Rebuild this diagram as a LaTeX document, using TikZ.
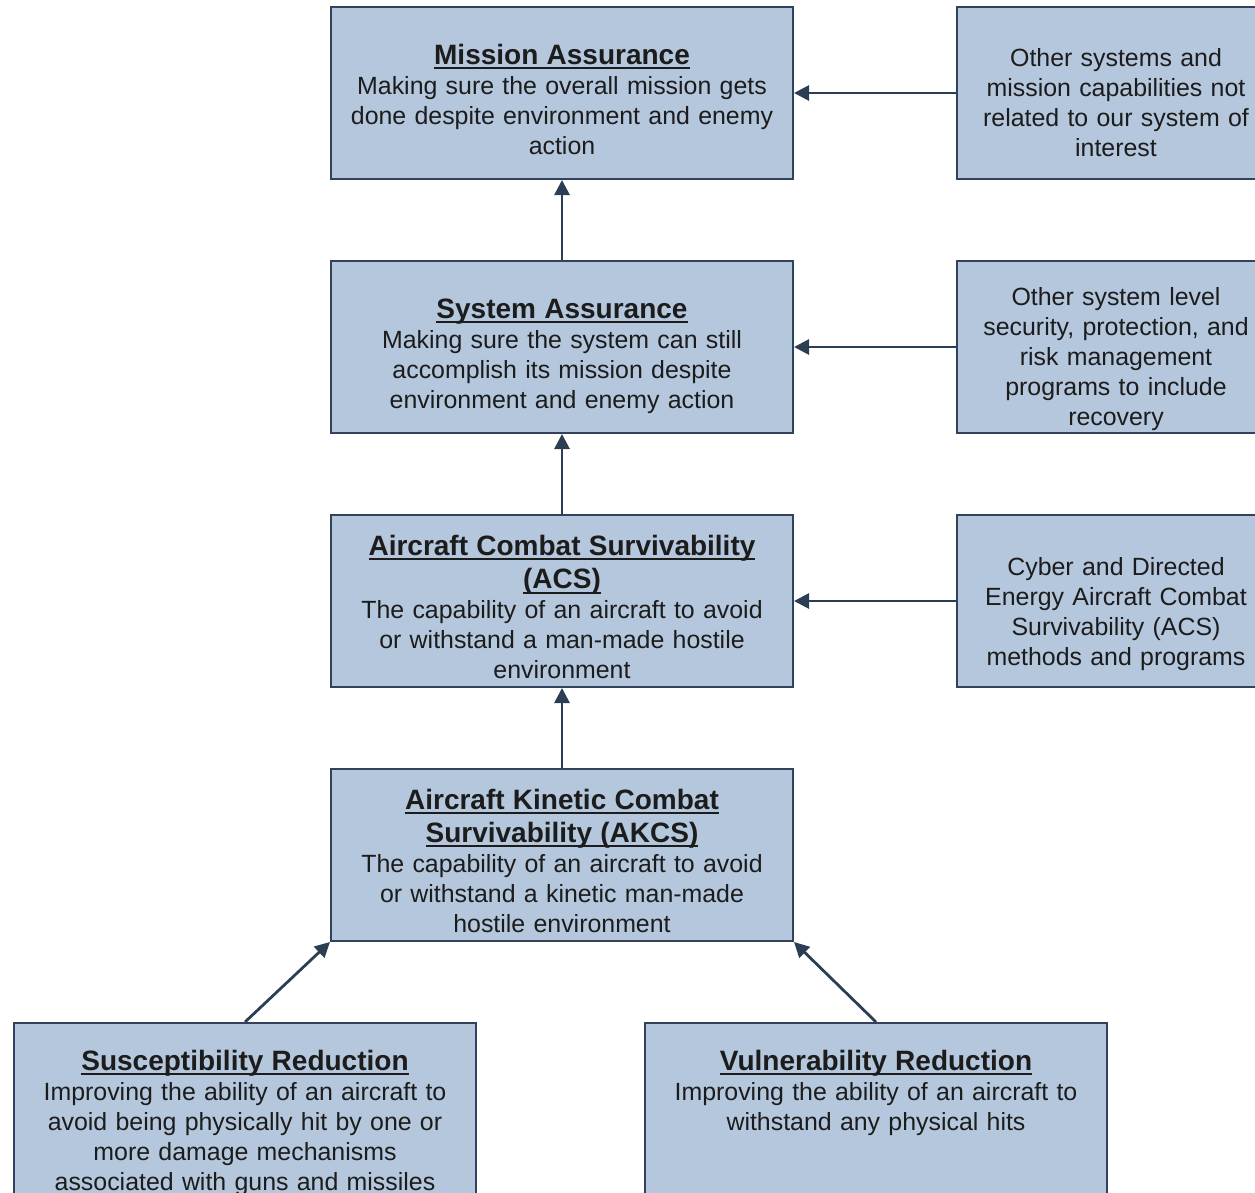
\documentclass[tikz,border=0pt]{standalone}
\usepackage{fontspec}
\setmainfont{Liberation Sans}
\usetikzlibrary{arrows.meta}
\definecolor{boxfill}{RGB}{180,199,221}
\definecolor{boxline}{RGB}{50,66,90}
\definecolor{arrowcol}{RGB}{44,62,84}
\definecolor{txtcol}{RGB}{28,28,28}
\newcommand\bodyfont{\fontsize{24.9pt}{30pt}\selectfont}
\newcommand\ttlfont{\fontsize{28pt}{33pt}\selectfont\bfseries}
\newcommand\boxtitle[1]{{\ttlfont\setbox0\hbox{#1}\rlap{\copy0}\rule[-5.2pt]{\wd0}{2.4pt}}}
\newcommand\tallstrut{\rule{0pt}{27pt}}
\begin{document}
\begin{tikzpicture}[x=1pt,y=-1pt,
  box/.style={draw=boxline, line width=2pt, fill=boxfill, inner sep=0pt,
    minimum width=462pt, minimum height=172pt},
  sidebox/.style={box, minimum width=318pt},
  txt/.style={inner sep=0pt, anchor=base, align=center, text width=456pt,
    font=\bodyfont, text=txtcol},
  sidetxt/.style={txt, text width=310pt},
  conn/.style={draw=arrowcol, line width=2.8pt, -{Triangle[length=15pt,width=15pt]}}]
\useasboundingbox (0,0) rectangle (1255,1192);
\clip (0,0) rectangle (1255,1192);

% boxes
\node[box] (ma) at (562,93) {};
\node[sidebox] (oth1) at (1116,93) {};
\node[box] (sa) at (562,347) {};
\node[sidebox] (oth2) at (1116,347) {};
\node[box] (acs) at (562,601) {};
\node[sidebox] (cyb) at (1116,601) {};
\node[box] (akcs) at (562,855) {};
\node[box, minimum height=180pt] (sus) at (245,1113) {};
\node[box, minimum height=180pt] (vul) at (876,1113) {};

% texts
\node[txt] (mat) at (562,64) {\boxtitle{Mission Assurance}\\ Making sure the overall mission gets\\ done despite environment and enemy\\ action};
\node[txt] (sat) at (562,318) {\boxtitle{System Assurance}\\ Making sure the system can still\\ accomplish its mission despite\\ environment and enemy action};
\node[txt] (acst) at (562,555) {\boxtitle{Aircraft Combat Survivability}\\ \tallstrut\boxtitle{(ACS)}\\ The capability of an aircraft to avoid\\ or withstand a man-made hostile\\ environment};
\node[txt] (akcst) at (562,809) {\boxtitle{Aircraft Kinetic Combat}\\ \tallstrut\boxtitle{Survivability (AKCS)}\\ The capability of an aircraft to avoid\\ or withstand a kinetic man-made\\ hostile environment};
\node[txt] (sust) at (245,1070) {\boxtitle{Susceptibility Reduction}\\ Improving the ability of an aircraft to\\ avoid being physically hit by one or\\ more damage mechanisms\\ associated with guns and missiles};
\node[txt] (vult) at (876,1070) {\boxtitle{Vulnerability Reduction}\\ Improving the ability of an aircraft to\\ withstand any physical hits};
\node[sidetxt] (o1t) at (1116,66) {Other systems and\\ mission capabilities not\\ related to our system of\\ interest};
\node[sidetxt] (o2t) at (1116,305) {Other system level\\ security, protection, and\\ risk management\\ programs to include\\ recovery};
\node[sidetxt] (cybt) at (1116,575) {Cyber and Directed\\ Energy Aircraft Combat\\ Survivability (ACS)\\ methods and programs};

% connectors
\draw[conn] (oth1.west) -- (ma.east);
\draw[conn] (oth2.west) -- (sa.east);
\draw[conn] (cyb.west) -- (acs.east);
\draw[conn] (sa.north) -- (ma.south);
\draw[conn] (acs.north) -- (sa.south);
\draw[conn] (akcs.north) -- (acs.south);
\draw[conn] (sus.north) -- (akcs.south west);
\draw[conn] (vul.north) -- (akcs.south east);
\end{tikzpicture}
\end{document}
